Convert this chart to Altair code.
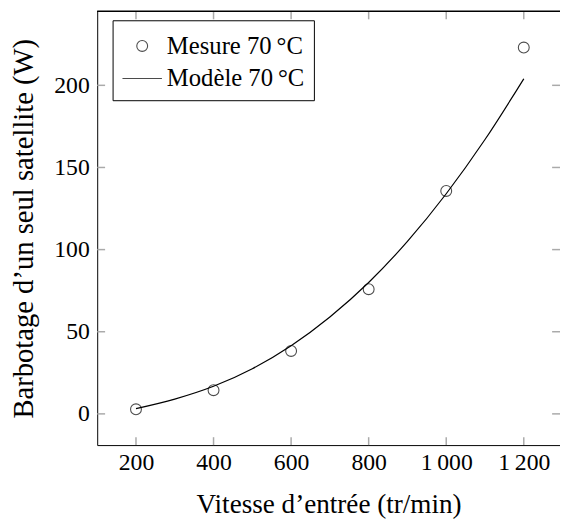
import altair as alt
import pandas as pd

# --- data ---
speed_meas = [200, 400, 600, 800, 1000, 1200]
power_meas = [2.8, 14.4, 38.3, 75.9, 135.7, 223.0]

speed_model = [200, 300, 400, 500, 600, 700, 800, 900, 1000, 1100, 1200]
power_model = [3.2, 9.0, 16.8, 27.5, 41.5, 59.0, 80.0, 105.0, 134.0, 167.0, 204.0]

x_ticks = [200, 400, 600, 800, 1000, 1200]
y_ticks = [0, 50, 100, 150, 200]

series_names = ["Mesure 70\u2009°C", "Modèle 70\u2009°C"]

FONT = "'Liberation Serif', 'Times New Roman', Times, 'DejaVu Serif', serif"
W = 469
H = 439.5
XDOM = [100, 1293.4]
YDOM = [-19, 245]

# symbol unit = sqrt(1024)/2 = 16 px
circle_path = "M -0.344 0 A 0.344 0.344 0 1 0 0.344 0 A 0.344 0.344 0 1 0 -0.344 0 Z"
line_path = "M -1.25 0 L 1.25 0"

meas = pd.DataFrame({"v": speed_meas, "p": power_meas, "s": series_names[0]})
model = pd.DataFrame({"v": speed_model, "p": power_model, "s": series_names[1]})
xt = pd.DataFrame({"t": x_ticks})
yt = pd.DataFrame({"t": y_ticks})

xscale = alt.Scale(domain=XDOM, nice=False, zero=False)
yscale = alt.Scale(domain=YDOM, nice=False, zero=False)

label_expr = ("datum.value >= 1000 ? floor(datum.value/1000) + '\u2009' + "
              "format(datum.value % 1000, '03d') : format(datum.value, 'd')")

x_axis = alt.Axis(title="Vitesse d\u2019entrée (tr/min)", values=x_ticks, labelExpr=label_expr,
                  ticks=False, grid=False, domain=True, domainColor="black", domainWidth=1,
                  labelFont=FONT, labelFontSize=24, labelColor="black", labelPadding=6,
                  titleFont=FONT, titleFontSize=27.5, titleFontWeight="normal",
                  titleColor="black", titlePadding=16)
y_axis = alt.Axis(title="Barbotage d\u2019un seul satellite (W)", values=y_ticks,
                  ticks=False, grid=False, domain=True, domainColor="black", domainWidth=1,
                  labelFont=FONT, labelFontSize=24, labelColor="black", labelPadding=8,
                  titleFont=FONT, titleFontSize=29, titleFontWeight="normal",
                  titleColor="black", titlePadding=16)

line = alt.Chart(model).mark_line(color="black", strokeWidth=1.2, interpolate="monotone").encode(
    x=alt.X("v:Q", scale=xscale, axis=x_axis),
    y=alt.Y("p:Q", scale=yscale, axis=y_axis),
)

points = alt.Chart(meas).mark_point(filled=False, color="black", strokeWidth=1.1, size=1024).encode(
    x=alt.X("v:Q", scale=xscale),
    y=alt.Y("p:Q", scale=yscale),
    shape=alt.Shape("s:N", scale=alt.Scale(domain=series_names, range=[circle_path, line_path]),
                    legend=alt.Legend(title=None, orient="none", legendX=15.6, legendY=9,
                                      strokeColor="black", fillColor="white", padding=9,
                                      cornerRadius=0, labelFont=FONT, labelFontSize=25,
                                      labelColor="black", labelOffset=8, rowPadding=3,
                                      symbolOffset=4,
                                      symbolSize=1024, symbolStrokeColor="black",
                                      symbolStrokeWidth=1.1, symbolFillColor="transparent")),
)

tick_col = "#aaaaaa"
tb = alt.Chart(xt).mark_rule(color=tick_col, strokeWidth=1.5).encode(
    x=alt.X("t:Q", scale=xscale), y=alt.value(H), y2=alt.value(H - 8))
tt = alt.Chart(xt).mark_rule(color=tick_col, strokeWidth=1.5).encode(
    x=alt.X("t:Q", scale=xscale), y=alt.value(0), y2=alt.value(8))
tl = alt.Chart(yt).mark_rule(color=tick_col, strokeWidth=1.5).encode(
    y=alt.Y("t:Q", scale=yscale), x=alt.value(0), x2=alt.value(8))
tr = alt.Chart(yt).mark_rule(color=tick_col, strokeWidth=1.5).encode(
    y=alt.Y("t:Q", scale=yscale), x=alt.value(W - 8), x2=alt.value(W))
top_border = alt.Chart(xt).mark_rule(color="black", strokeWidth=1).encode(
    x=alt.value(0), x2=alt.value(W), y=alt.value(0))

chart = alt.layer(tb, tt, tl, tr, top_border, line, points).properties(
    width=W, height=H,
    autosize=alt.AutoSizeParams(type="none"),
    padding={"left": 90.4, "top": 0, "right": 0, "bottom": 75},
).configure_view(stroke=None)

chart.save("out.html", embed_options={"renderer": "svg", "actions": False})
